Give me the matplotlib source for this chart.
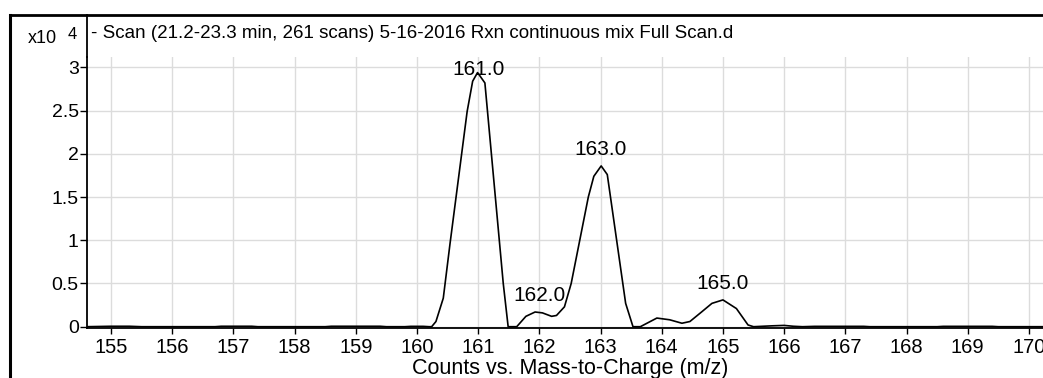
import matplotlib
matplotlib.use("Agg")
import matplotlib.pyplot as plt
from matplotlib.lines import Line2D

plt.rcParams["font.family"] = ["Liberation Sans", "DejaVu Sans"]

# m/z values and counts (x10^4)
mz = [154.6, 155.0, 155.3, 155.5, 156.7, 156.8, 157.3, 157.4, 158.5, 158.6,
      159.4, 159.5, 159.8, 159.9, 160.1, 160.2, 160.24, 160.31, 160.43, 160.54,
      160.82, 160.91, 160.99, 161.11, 161.41, 161.49, 161.63, 161.78, 161.93, 162.05,
      162.2, 162.28, 162.41, 162.52, 162.8, 162.89, 163.01, 163.11, 163.41, 163.53,
      163.65, 163.92, 164.13, 164.33, 164.46, 164.65, 164.82, 165.0, 165.22, 165.41,
      165.5, 165.8, 166.0, 166.15, 166.3, 166.5, 167.3, 167.4, 168.5, 168.6,
      169.4, 169.5, 170.3]
counts = [0, 0.005, 0.005, 0, 0, 0.005, 0.005, 0, 0, 0.005,
          0.005, 0, 0, 0.004, 0.004, 0, 0, 0.06, 0.33, 0.96,
          2.49, 2.84, 2.94, 2.82, 0.50, 0, 0, 0.12, 0.17, 0.16,
          0.12, 0.13, 0.23, 0.5, 1.5, 1.74, 1.86, 1.76, 0.27, 0,
          0, 0.10, 0.08, 0.04, 0.06, 0.17, 0.27, 0.31, 0.21, 0.02,
          0, 0.01, 0.015, 0.005, 0, 0.004, 0.004, 0, 0, 0.004,
          0.004, 0, 0]

peak_mz = [161.0, 162.0, 163.0, 165.0]
peak_counts = [2.94, 0.17, 1.86, 0.31]
peak_labels = ["161.0", "162.0", "163.0", "165.0"]

x_ticks = list(range(155, 171))
y_ticks = [0, 0.5, 1, 1.5, 2, 2.5, 3]
y_tick_labels = ["0", "0.5", "1", "1.5", "2", "2.5", "3"]

title = "- Scan (21.2-23.3 min, 261 scans) 5-16-2016 Rxn continuous mix Full Scan.d"

W, H = 1043, 378
fig = plt.figure(figsize=(W / 100, H / 100), dpi=100)
ax = fig.add_axes([87 / W, (H - 328) / H, (W - 87) / W, (328 - 57) / H])

ax.plot(mz, counts, color="black", lw=1.2)

ytop = 3.12
ax.set_xlim(154.608, 170.23)
ax.set_ylim(-0.015, ytop)

for x, y, lab in zip(peak_mz, peak_counts, peak_labels):
    if y + 0.35 > ytop:
        ax.annotate(lab, (x, ytop), xytext=(0, -2), textcoords="offset points",
                    ha="center", va="top", fontsize=15)
    else:
        ax.annotate(lab, (x, y), xytext=(0, 5), textcoords="offset points",
                    ha="center", va="bottom", fontsize=15)

ax.set_xticks(x_ticks)
ax.set_xticklabels([str(t) for t in x_ticks], fontsize=14.5)
ax.set_yticks(y_ticks)
ax.set_yticklabels(y_tick_labels, fontsize=14)
ax.tick_params(axis="x", length=4, width=1, pad=3)
ax.tick_params(axis="y", length=5, width=1, pad=1)
ax.grid(True, color="#dcdcdc", lw=1)
ax.set_axisbelow(True)

ax.spines["top"].set_visible(False)
ax.spines["right"].set_visible(False)
ax.spines["left"].set_linewidth(1.3)
ax.spines["bottom"].set_linewidth(1.3)

# outer frame and the header area above the plot
def px_line(x0, y0, x1, y1, lw):
    fig.add_artist(Line2D([x0 / W, x1 / W], [1 - y0 / H, 1 - y1 / H],
                          color="black", lw=lw, transform=fig.transFigure))

px_line(10, 15, W, 15, 2)
px_line(10, 15, 10, H, 2.2)
px_line(87, 15, 87, 57, 1.3)

fig.text(28 / W, 1 - 43 / H, "x10", fontsize=13, ha="left", va="baseline")
fig.text(68 / W, 1 - 39 / H, "4", fontsize=12, ha="left", va="baseline")
fig.text(91 / W, 1 - 37.5 / H, title, fontsize=13.5, ha="left", va="baseline")
fig.text(570 / W, 1 - 374 / H, "Counts vs. Mass-to-Charge (m/z)", fontsize=15.5,
         ha="center", va="baseline")

fig.savefig("out.png", dpi=100)
